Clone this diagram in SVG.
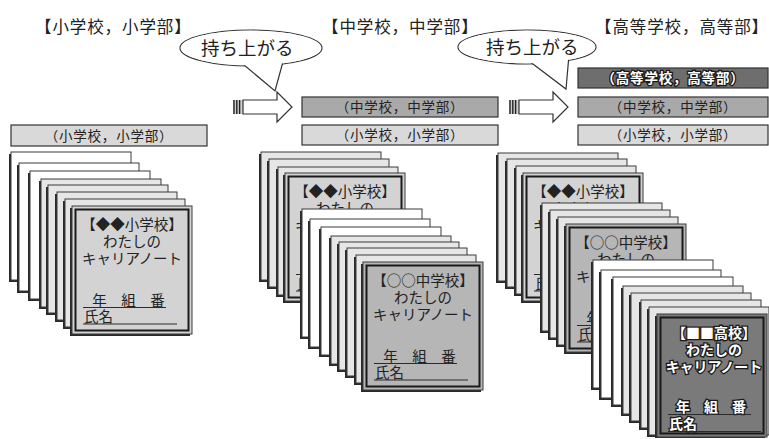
<svg xmlns="http://www.w3.org/2000/svg" width="769" height="439" viewBox="0 0 769 439">
<style>
text{font-family:"Noto Sans CJK JP","Noto Sans CJK SC",sans-serif;fill:#222;}
.t{font-size:16.5px;letter-spacing:0.9px}
.bb{font-size:18.5px}
.bt{font-size:13.5px;letter-spacing:0.8px;text-anchor:middle}
.ct{font-size:14.5px;text-anchor:middle}
.cl{font-size:14.5px}
.sh{fill:#2a2a2a}
.c{stroke:#3a3a3a;stroke-width:1}
.w{fill:#fff}
.l{fill:#e6e6e6}
.m1{fill:#d3d3d3}
.m2{fill:#b6b6b6}
.m3{fill:#7a7a7a}
.in{fill:none;stroke:#1a1a1a;stroke-width:2}
.ul{stroke:#2a2a2a;stroke-width:1.2}
.hi text{fill:#fff;stroke:#1a1a1a;stroke-width:2.6px;paint-order:stroke;font-weight:bold}
.hi .ct,.hi .cl{font-size:14px}
.bar{stroke:#333;stroke-width:1.2}
.bub{fill:#fff;stroke:#333;stroke-width:1.2}
.arr{fill:#fff;stroke:#333;stroke-width:1.2}
.bars{stroke:#222;stroke-width:1.4}
</style>
<defs>
<g id="cW"><rect class="sh" x="-2" y="2" width="120" height="128"/><rect class="c w" width="120" height="128"/></g>
<g id="cL"><rect class="sh" x="-2" y="2" width="120" height="128"/><rect class="c l" width="120" height="128"/></g>
</defs>

<g id="title-elem"><text class="t" x="35" y="33">【小学校，小学部】</text></g>
<g id="title-mid"><text class="t" x="322" y="33">【中学校，中学部】</text></g>
<g id="title-high"><text class="t" x="595" y="33">【高等学校，高等部】</text></g>

<g id="bubble1">
<ellipse class="bub" cx="251" cy="48" rx="71" ry="18"/>
<path class="bub" d="M238,60 L275,91 L284,58"/>
<ellipse cx="251" cy="48" rx="70.3" ry="17.3" fill="#fff"/>
<text class="bb" x="201" y="55">持ち上がる</text>
</g>
<g id="bubble2">
<ellipse class="bub" cx="527" cy="47" rx="69" ry="17"/>
<path class="bub" d="M525,58 L566,89 L569,55"/>
<ellipse cx="527" cy="47" rx="68.3" ry="16.3" fill="#fff"/>
<text class="bb" x="486" y="54">持ち上がる</text>
</g>

<g id="connectors">
<g id="arrow1">
<rect x="233" y="100" width="10" height="14" fill="#cfcfcf"/>
<line class="bars" x1="234" y1="100" x2="234" y2="114"/>
<line class="bars" x1="236.8" y1="100" x2="236.8" y2="114"/>
<line class="bars" x1="239.6" y1="100" x2="239.6" y2="114"/>
<path class="arr" d="M243,100 H277 V92 L292,107 L277,122 V114 H243 Z"/>
</g>
<g id="arrow2">
<rect x="509" y="100" width="10" height="14" fill="#cfcfcf"/>
<line class="bars" x1="510" y1="100" x2="510" y2="114"/>
<line class="bars" x1="512.8" y1="100" x2="512.8" y2="114"/>
<line class="bars" x1="515.6" y1="100" x2="515.6" y2="114"/>
<path class="arr" d="M519,100 H553 V92 L568,107 L553,122 V114 H519 Z"/>
</g>
</g>

<g id="bar-elem-1"><rect class="bar" x="11" y="125" width="196" height="21" fill="#d9d9d9"/><text class="bt" x="109" y="140.5">（小学校，小学部）</text></g>
<g id="bar-mid-2"><rect class="bar" x="302" y="97" width="196" height="20" fill="#a9a9a9"/><text class="bt" x="400" y="112">（中学校，中学部）</text></g>
<g id="bar-elem-2"><rect class="bar" x="302" y="125" width="196" height="20" fill="#d9d9d9"/><text class="bt" x="400" y="140">（小学校，小学部）</text></g>
<g id="bar-high-3" class="hi"><rect class="bar" x="578" y="68" width="190" height="20" fill="#6e6e6e"/><text class="bt" x="673" y="83">（高等学校，高等部）</text></g>
<g id="bar-mid-3"><rect class="bar" x="578" y="97" width="190" height="20" fill="#a9a9a9"/><text class="bt" x="673" y="112">（中学校，中学部）</text></g>
<g id="bar-elem-3"><rect class="bar" x="578" y="125" width="190" height="20" fill="#d9d9d9"/><text class="bt" x="673" y="140">（小学校，小学部）</text></g>

<g id="stack-elem">
<use href="#cW" x="11" y="152"/><use href="#cW" x="19" y="163"/><use href="#cW" x="30" y="171"/>
<use href="#cL" x="41" y="179"/><use href="#cL" x="48" y="185"/><use href="#cL" x="57" y="192"/><use href="#cL" x="65" y="199"/>
<g id="card-elem-1" transform="translate(72,206)">
<rect class="sh" x="-2" y="2" width="120" height="128"/><rect class="c m1" width="120" height="128"/><rect class="in" x="3.5" y="3.5" width="113" height="121"/>
<text class="ct" x="60" y="24">【◆◆小学校】</text><text class="ct" x="60" y="41">わたしの</text><text class="ct" x="60" y="58">キャリアノート</text>
<text class="ct" x="56.5" y="100">年　組　番</text><line class="ul" x1="11" y1="101.5" x2="94" y2="101.5"/>
<text class="cl" x="12" y="116">氏名</text><line class="ul" x1="11" y1="118" x2="105" y2="118"/>
</g>
</g>

<g id="stack-mid">
<use href="#cL" x="261" y="152"/><use href="#cL" x="269" y="159"/><use href="#cL" x="278" y="167"/>
<g id="card-elem-2" transform="translate(285,173)">
<rect class="sh" x="-2" y="2" width="120" height="128"/><rect class="c m1" width="120" height="128"/><rect class="in" x="3.5" y="3.5" width="113" height="121"/>
<text class="ct" x="60" y="24">【◆◆小学校】</text><text class="ct" x="60" y="41">わたしの</text><text class="ct" x="60" y="58">キャリアノート</text>
<text class="ct" x="56.5" y="100">年　組　番</text><line class="ul" x1="11" y1="101.5" x2="94" y2="101.5"/>
<text class="cl" x="12" y="116">氏名</text><line class="ul" x1="11" y1="118" x2="105" y2="118"/>
</g>
<use href="#cW" x="302" y="209"/><use href="#cW" x="310" y="219"/><use href="#cW" x="321" y="227"/>
<use href="#cL" x="331" y="236"/><use href="#cL" x="339" y="242"/><use href="#cL" x="347" y="248"/><use href="#cL" x="356" y="255"/>
<g id="card-mid-2" transform="translate(363,262)">
<rect class="sh" x="-2" y="2" width="120" height="128"/><rect class="c m2" width="120" height="128"/><rect class="in" x="3.5" y="3.5" width="113" height="121"/>
<text class="ct" x="60" y="24">【○○中学校】</text><text class="ct" x="60" y="41">わたしの</text><text class="ct" x="60" y="58">キャリアノート</text>
<text class="ct" x="56.5" y="100">年　組　番</text><line class="ul" x1="11" y1="101.5" x2="94" y2="101.5"/>
<text class="cl" x="12" y="116">氏名</text><line class="ul" x1="11" y1="118" x2="105" y2="118"/>
</g>
</g>

<g id="stack-high">
<use href="#cL" x="498" y="153"/><use href="#cL" x="507" y="159"/><use href="#cL" x="516" y="166"/>
<g id="card-elem-3" transform="translate(523,173)">
<rect class="sh" x="-2" y="2" width="120" height="128"/><rect class="c m1" width="120" height="128"/><rect class="in" x="3.5" y="3.5" width="113" height="121"/>
<text class="ct" x="60" y="24">【◆◆小学校】</text><text class="ct" x="60" y="41">わたしの</text><text class="ct" x="60" y="58">キャリアノート</text>
<text class="ct" x="56.5" y="100">年　組　番</text><line class="ul" x1="11" y1="101.5" x2="94" y2="101.5"/>
<text class="cl" x="12" y="116">氏名</text><line class="ul" x1="11" y1="118" x2="105" y2="118"/>
</g>
<use href="#cL" x="542" y="203"/><use href="#cL" x="550" y="210"/><use href="#cL" x="558" y="217"/>
<g id="card-mid-3" transform="translate(566,224)">
<rect class="sh" x="-2" y="2" width="120" height="128"/><rect class="c m2" width="120" height="128"/><rect class="in" x="3.5" y="3.5" width="113" height="121"/>
<text class="ct" x="60" y="24">【○○中学校】</text><text class="ct" x="60" y="41">わたしの</text><text class="ct" x="60" y="58">キャリアノート</text>
<text class="ct" x="56.5" y="100">年　組　番</text><line class="ul" x1="11" y1="101.5" x2="94" y2="101.5"/>
<text class="cl" x="12" y="116">氏名</text><line class="ul" x1="11" y1="118" x2="105" y2="118"/>
</g>
<use href="#cW" x="593" y="260"/><use href="#cW" x="601" y="270"/><use href="#cW" x="613" y="277"/>
<use href="#cL" x="623" y="286"/><use href="#cL" x="631" y="293"/><use href="#cL" x="641" y="300"/><use href="#cL" x="649" y="307"/>
<g id="card-high-3" class="hi" transform="translate(657,314)">
<rect class="sh" x="-2" y="2" width="110" height="122"/><rect class="c m3" width="110" height="123"/><rect class="in" x="3.5" y="3.5" width="103" height="116"/>
<text class="ct" x="57" y="24">【■■高校】</text><text class="ct" x="57" y="41">わたしの</text><text class="ct" x="57" y="58">キャリアノート</text>
<text class="ct" x="54" y="97.5">年　組　番</text><line class="ul" x1="11" y1="100.5" x2="94" y2="100.5"/>
<text class="cl" x="12" y="115">氏名</text><line class="ul" x1="11" y1="117.5" x2="104" y2="117.5"/>
</g>
</g>
</svg>
